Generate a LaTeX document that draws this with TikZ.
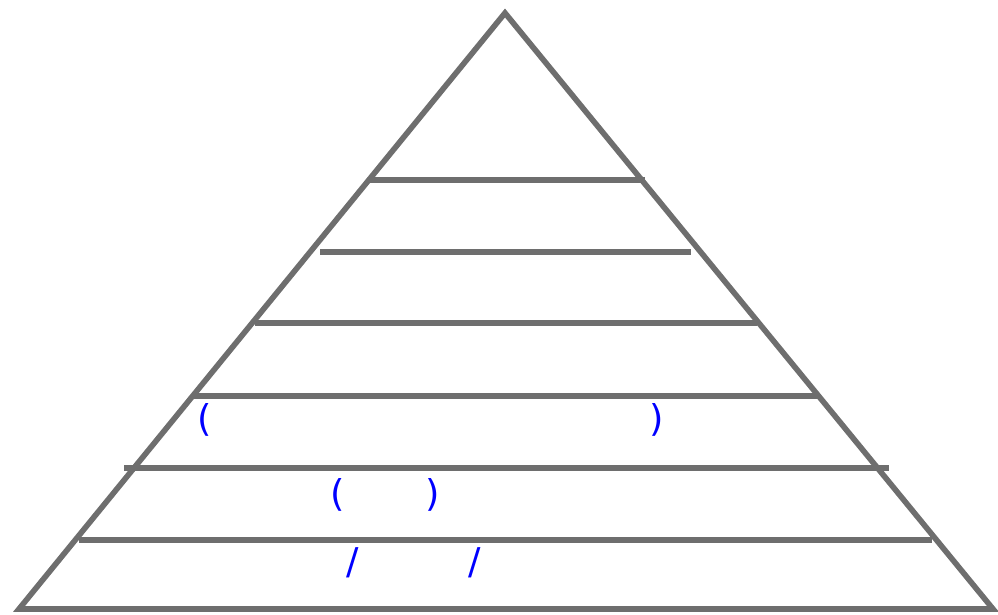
\documentclass[tikz,border=0pt]{standalone}
\usepackage{fontspec}
\newfontfamily\labelfont{DejaVu Sans}
\usetikzlibrary{positioning}
\definecolor{PyrGray}{HTML}{6E6E6E}
\definecolor{PyrBlue}{HTML}{0000FF}

\begin{document}
\begin{tikzpicture}[x=0.02cm, y=-0.02cm,
  edge/.style={draw=PyrGray, line width=3.2pt},
  tier/.style={draw=PyrGray, line width=2.9pt},
  glyph/.style={text=PyrBlue, inner sep=0pt,
                font=\labelfont\fontsize{21}{24}\selectfont}
]
\useasboundingbox (0,0) rectangle (998,615);

% outline
\coordinate (apex) at (505,13);
\coordinate (left) at (19,609);
\coordinate (right) at (993,609);
\draw[edge] (apex) -- (left) -- (right) -- cycle;

% tiers
\foreach \y/\xa/\xb in {180/369/645, 252/320/691, 323/255/757,
                        396/192/820, 468/124/889, 540/79/932}
  \draw[tier] (\xa,\y) -- (\xb,\y);

% labels
\node[glyph] (lopen)  at (205,420) {(};
\node[glyph] (lclose) at (657,420) {)};
\node[glyph] (mopen)  at (338,495) {(};
\node[glyph] (mclose) at (433,495) {)};
\node[glyph] (sla)    at (353,563) {/};
\node[glyph] (slb)    at (475,563) {/};

\end{tikzpicture}
\end{document}
